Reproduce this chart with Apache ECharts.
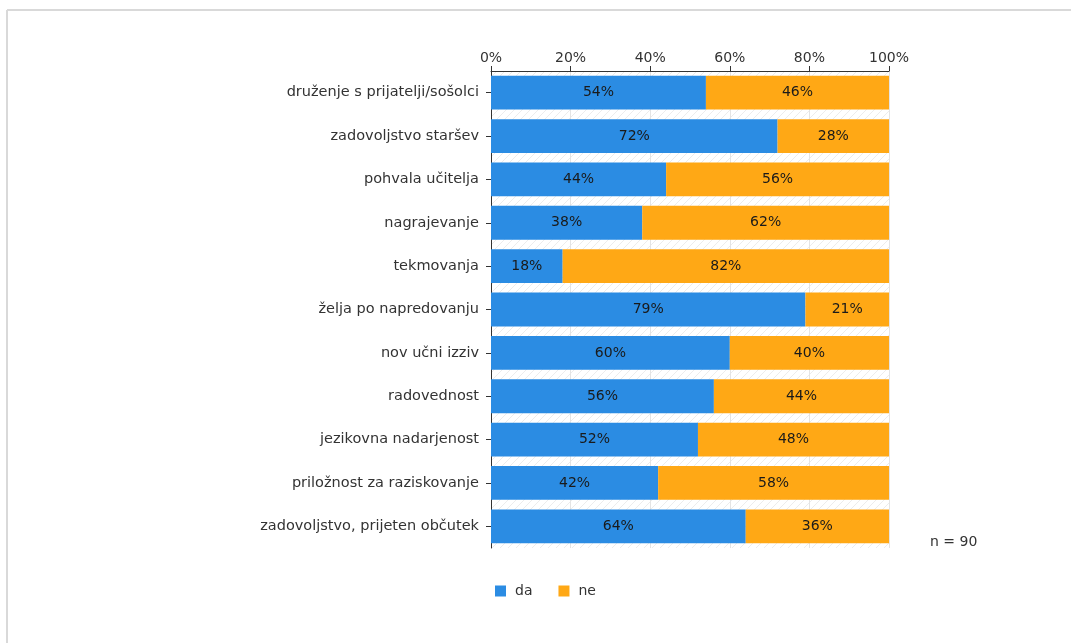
<!DOCTYPE html>
<html>
<head>
<meta charset="utf-8">
<script src="https://cdn.jsdelivr.net/npm/echarts@6/dist/echarts.min.js"></script>
<style>
html,body{margin:0;padding:0;background:#fff;}
#main{width:1071px;height:643px;}
</style>
</head>
<body>
<div id="main"></div>
<script>
const categories = [
  "druženje s prijatelji/sošolci",
  "zadovoljstvo staršev",
  "pohvala učitelja",
  "nagrajevanje",
  "tekmovanja",
  "želja po napredovanju",
  "nov učni izziv",
  "radovednost",
  "jezikovna nadarjenost",
  "priložnost za raziskovanje",
  "zadovoljstvo, prijeten občutek"
];
const daValues = [54, 72, 44, 38, 18, 79, 60, 56, 52, 42, 64];
const neValues = [46, 28, 56, 62, 82, 21, 40, 44, 48, 58, 36];
const seriesNames = ["da", "ne"];
const tickLabels = ["0%", "20%", "40%", "60%", "80%", "100%"];
const noteText = "n = 90";

// hatched background pattern
const pc = document.createElement('canvas');
pc.width = 8; pc.height = 8;
const px = pc.getContext('2d');
px.fillStyle = '#ffffff'; px.fillRect(0,0,8,8);
px.strokeStyle = '#ececec'; px.lineWidth = 1;
px.beginPath(); px.moveTo(0,8); px.lineTo(8,0); px.moveTo(-4,4); px.lineTo(4,-4); px.moveTo(4,12); px.lineTo(12,4); px.stroke();

const chart = echarts.init(document.getElementById('main'), null, {renderer:'canvas'});
const font = "'DejaVu Sans', Verdana, sans-serif";
const option = {
  backgroundColor: '#fff',
  animation: false,
  textStyle: {fontFamily: font},
  grid: {left: 491, top: 71, width: 398, height: 477, show: true, borderWidth: 0,
         backgroundColor: {image: pc, repeat: 'repeat'}},
  legend: {
    data: seriesNames, bottom: 40, left: 490, itemWidth: 11, itemHeight: 11, itemGap: 26,
    icon: 'rect', textStyle: {fontFamily: font, fontSize: 14, color: '#333', padding: [0,0,0,4]}
  },
  xAxis: {
    type: 'value', position: 'top', min: 0, max: 100, interval: 20,
    axisLine: {show: true, lineStyle: {color: '#333', width: 1}},
    axisTick: {show: true, length: 5, lineStyle: {color: '#333'}},
    axisLabel: {fontFamily: font, fontSize: 14, color: '#333', margin: 6,
      formatter: v => tickLabels[Math.round(v/20)]},
    splitLine: {show: true, lineStyle: {color: '#e4e4e4', width: 1}}
  },
  yAxis: {
    type: 'category', data: categories, inverse: true,
    axisLine: {show: true, lineStyle: {color: '#333', width: 1}},
    axisTick: {show: true, alignWithLabel: true, length: 5, lineStyle: {color: '#333'}},
    axisLabel: {fontFamily: font, fontSize: 14.5, color: '#333', margin: 12}
  },
  series: [
    {name: seriesNames[0], type: 'bar', stack: 't', data: daValues, barCategoryGap: '22%',
     itemStyle: {color: '#2B8CE3'},
     label: {show: true, position: 'inside', formatter: '{c}%', fontFamily: font, fontSize: 14, color: '#1a1a1a'}},
    {name: seriesNames[1], type: 'bar', stack: 't', data: neValues, barCategoryGap: '22%',
     itemStyle: {color: '#FFA815'},
     label: {show: true, position: 'inside', formatter: '{c}%', fontFamily: font, fontSize: 14, color: '#1a1a1a'}}
  ],
  graphic: [
    {type: 'line', shape: {x1: 7, y1: 10, x2: 1071, y2: 10}, style: {stroke: '#d9d9d9', lineWidth: 2}},
    {type: 'line', shape: {x1: 7, y1: 10, x2: 7, y2: 643}, style: {stroke: '#d9d9d9', lineWidth: 2}},
    {type: 'text', left: 930, top: 535, style: {text: noteText, font: "14px 'DejaVu Sans', Verdana, sans-serif", fill: '#333'}}
  ]
};
chart.setOption(option);
</script>
</body>
</html>
